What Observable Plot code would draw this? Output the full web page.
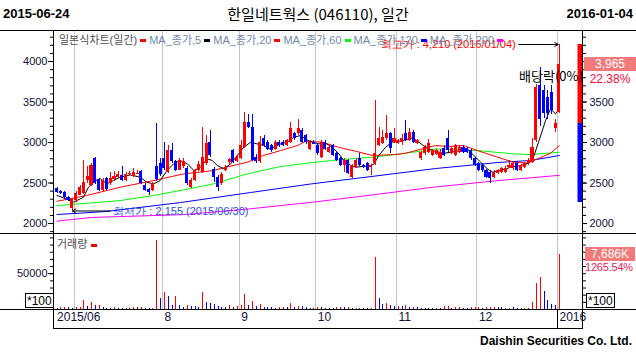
<!DOCTYPE html>
<html><head><meta charset="utf-8">
<script src="https://cdn.jsdelivr.net/npm/d3@7"></script>
<script src="https://cdn.jsdelivr.net/npm/@observablehq/plot@0.6"></script>
<style>
body{margin:0;background:#fff;}
#root{position:relative;width:636px;height:353px;overflow:hidden;background:#fff;font-family:"Liberation Sans",Arial,"Noto Sans CJK KR",sans-serif;}
#root svg{position:absolute;left:0;}
.ab{position:absolute;white-space:nowrap;}
.hl{position:absolute;background:#000;}
.lg i{display:inline-block;width:6px;height:3px;margin:0 3px 0 3px;vertical-align:middle;position:relative;top:-1px;}
</style></head><body><div id="root"></div>
<script>
// ---------------- data (daily candles 2015-06-24 .. 2016-01-04) ----------------
const opens = [2428,2400,2387,2320,2190,2280,2350,2370,2530,2470,2800,2540,2410,2550,2490,2540,2570,2590,2530,2600,2580,2610,2640,2470,2420,2410,2700,2740,2800,2630,2900,2760,2660,2700,2680,2450,2530,2650,2630,2740,3000,2670,2570,2490,2650,2750,2900,2760,2800,2940,3250,3190,2820,2760,3045,3000,2960,2920,3000,3000,2960,3004,3107,3107,3148,3086,2920,3004,2963,2819,3004,2880,2963,2860,2800,2716,2778,2572,2695,2798,2716,2737,2695,2737,2963,2983,3045,3107,3004,2983,3004,3107,3025,3127,2983,2798,2860,2880,2840,2850,2800,2922,3045,2860,2840,2880,2942,2922,2901,2798,2737,2720,2654,2634,2572,2613,2634,2634,2695,2675,2737,2654,2695,2737,2757,3025,3700,3640,3560,3620,3170,3375];
const highs = [2440,2410,2395,2330,2310,2390,2470,2780,2700,2740,2820,2560,2550,2570,2630,2640,2640,2700,2630,2640,2680,2650,2650,2490,2430,2510,3230,2800,3000,2960,2990,2780,2800,2800,2700,2550,2670,2760,3190,3090,3150,2690,2590,2630,2720,2800,2920,2840,3020,3375,3350,3350,2850,3080,3085,3020,2980,3020,3020,3020,3040,3250,3130,3290,3170,3100,3020,3020,2990,3020,3020,2960,2980,2880,2810,2800,2790,2730,2800,2860,2730,2750,2730,3518,3189,3148,3333,3120,3170,3040,3100,3271,3170,3150,3040,2890,2960,3040,2920,2920,2920,2963,3148,2940,2980,2960,2960,2940,2920,2810,2750,2737,2670,2650,2650,2670,2690,2700,2780,2750,2760,2730,2750,2800,3045,3720,3930,3700,3640,3700,3290,4210];
const lows = [2375,2360,2300,2270,2155,2260,2340,2360,2500,2460,2480,2400,2400,2410,2470,2520,2550,2520,2520,2590,2570,2600,2480,2400,2350,2400,2520,2580,2650,2620,2740,2640,2650,2680,2470,2430,2520,2640,2620,2720,2820,2510,2390,2470,2640,2730,2740,2750,2790,2930,3170,2760,2740,2740,2940,2900,2880,2900,2940,2950,2950,2990,3030,3090,2990,2980,2900,2970,2840,2800,2900,2870,2830,2760,2700,2634,2600,2560,2680,2700,2680,2640,2593,2720,2950,2970,3030,2860,2990,2970,2960,3010,3010,2990,2970,2778,2840,2870,2830,2840,2790,2830,2880,2850,2830,2870,2860,2870,2780,2700,2640,2630,2560,2490,2560,2600,2620,2620,2680,2660,2640,2640,2680,2720,2740,3000,3200,3300,3290,3350,3130,3354];
const closes = [2387,2370,2317,2290,2300,2370,2450,2510,2580,2720,2490,2410,2530,2420,2560,2580,2600,2530,2610,2620,2630,2620,2490,2410,2380,2490,2540,2600,2680,2900,2760,2660,2780,2760,2490,2530,2655,2730,2820,2985,2840,2570,2450,2610,2690,2790,2757,2820,2960,3250,3190,2780,2760,3000,2960,2920,2900,3000,2960,2960,3025,3170,3045,3170,3004,3004,3004,2980,2860,3004,2920,2942,2840,2778,2716,2778,2613,2716,2778,2716,2690,2654,2716,2860,3045,3066,3107,2922,3045,3025,3045,3025,3127,3004,3025,2880,2942,2983,2901,2900,2880,2840,2900,2922,2963,2942,2880,2880,2800,2716,2654,2654,2572,2551,2634,2654,2675,2675,2716,2737,2654,2716,2737,2778,2942,3680,3290,3354,3354,3395,3240,3965];
// volume in thousand shares, and its colour (1 = up/red, 0 = down/blue)
const volumes = [93,233,280,233,140,233,280,1256,419,977,558,558,233,140,140,233,140,140,140,140,280,233,233,140,140,140,9626,1535,2372,1814,558,1814,512,280,512,419,419,233,2372,977,837,698,419,280,280,512,280,419,512,2093,558,1116,419,698,280,280,280,140,280,280,326,837,280,419,419,280,140,140,233,233,140,140,140,233,280,233,280,140,140,140,140,140,140,7300,1535,698,837,512,372,419,419,558,280,280,280,140,140,140,140,140,140,372,419,140,233,280,140,140,233,280,280,140,233,233,280,233,233,140,140,280,140,140,140,140,977,3674,4464,2511,1256,698,563,7686];
const volUp = [0,1,1,0,0,1,1,1,0,1,0,1,0,0,0,1,0,0,1,0,1,0,1,0,0,1,1,0,1,0,0,1,0,0,1,0,0,0,1,0,0,0,0,0,0,1,0,1,1,1,0,1,0,1,0,0,0,0,1,1,0,1,0,1,0,0,0,1,1,0,1,0,0,1,1,0,1,0,1,1,0,0,1,1,0,0,1,0,0,1,0,1,0,1,0,0,0,0,0,1,0,1,1,0,1,1,0,0,1,1,1,0,1,1,1,0,0,1,1,0,0,1,1,0,1,1,1,0,0,0,0,1];
// moving averages: [day index, value]
const ma5 = [[0,2346],[1.7,2317],[4.3,2263],[6.9,2325],[8.2,2449],[10,2531],[11.3,2551],[13,2490],[14.7,2531],[16.5,2572],[19.1,2600],[21.7,2572],[23.4,2510],[25.2,2490],[26.9,2531],[28.7,2654],[30.4,2737],[32.1,2778],[34,2737],[35.7,2654],[37.4,2695],[39.2,2798],[40.5,2778],[41.8,2716],[43.5,2675],[45.3,2737],[47,2840],[48.7,2942],[50.5,3004],[52.2,2983],[53.9,2963],[55.3,2922],[56.6,2942],[58.3,2983],[60,3004],[61.8,3066],[63.5,3086],[65.3,3030],[66.6,3004],[68.3,2983],[70,2992],[71.8,2942],[73.5,2860],[74.8,2778],[76.6,2716],[77.9,2695],[79.6,2704],[81.4,2704],[82.7,2737],[83.9,2840],[85.7,2942],[87.4,3004],[89.2,3016],[90.9,3033],[92.7,3058],[94.4,3004],[96.1,2942],[97.9,2901],[100.9,2868],[104.4,2893],[107,2922],[108.7,2839],[110.5,2757],[112.2,2675],[113.5,2634],[115.7,2654],[118.3,2695],[120.9,2716],[123.1,2745],[124.4,2839],[125.7,3025],[127.4,3271],[128.7,3415],[130,3354],[131,3415]];
const ma20 = [[0,2275],[7.7,2346],[16.6,2449],[25.2,2531],[33,2613],[40.8,2654],[43.4,2688],[49.7,2757],[53.8,2840],[58.3,2901],[62.7,2963],[64.8,3015],[69.2,3004],[73.4,2942],[77.8,2893],[82.3,2840],[88.3,2852],[90.9,2868],[95.3,2922],[98.7,2963],[101.8,2951],[106,2963],[109.6,2901],[114.9,2819],[119,2757],[122.7,2745],[125.3,2799],[128.7,2868],[131,2963]];
const ma60 = [[0,2222],[7.7,2250],[16.6,2284],[25.2,2346],[33,2416],[40.8,2490],[49.7,2614],[58.3,2704],[66.1,2750],[73.4,2787],[82.3,2819],[90.9,2868],[98.7,2920],[109.6,2901],[119,2860],[123.5,2852],[131,2880]];
const ma120 = [[0,2111],[12.7,2148],[32.2,2259],[50.5,2383],[66.1,2488],[81.9,2580],[98.7,2679],[114.9,2753],[123.5,2778],[131,2840]];
const ma200 = [[0,2030],[9,2075],[33,2110],[50,2180],[66,2260],[80,2340],[98,2448],[115,2530],[131,2595]];
// first trading day of each month (day index) and date-axis labels
const monthStarts = [5,28,48,68,89,110,131];
const dateLabels = [{i:0,t:"2015/06"},{i:28,t:"8"},{i:48,t:"9"},{i:68,t:"10"},{i:89,t:"11"},{i:110,t:"12"},{i:131,t:"2016"}];
const priceTicks = [2000,2500,3000,3500,4000];
const volTicks = [5000];
const lowMark = {i:4, p:2155, label:"최저가 : 2,155 (2015/06/30)"};
const highMark = {i:131, p:4210, label:"최고가 : 4,210 (2016/01/04)"};
const exDiv = {i:129, label:"배당락(0%)"};
const rangeBar = [{lo:3235,hi:4210,c:"#ff0000"},{lo:2260,hi:3235,c:"#0000ff"}];
const legendItems = [["일본식차트(일간)","#ff0000"],["MA_종가,5","#000000"],["MA_종가,20","#ff0000"],["MA_종가,60","#00ff00"],["MA_종가,120","#0000ff"],["MA_종가,200","#ff00ff"]];
const lastVolLabel = "7,686K", lastVolPct = "1265.54%";

// ---------------- drawing ----------------
const RED="#ff0000", BLUE="#0000ff", GRID="#c4c4c4", TXT="#101038";
const N = closes.length, ids = d3.range(N);
const X_DOMAIN = [-0.913, 137.03];
const col = i => closes[i] >= opens[i] ? RED : BLUE;
const root = document.getElementById("root");
const common = {width:636, marginLeft:53, marginRight:54, x:{domain:X_DOMAIN, axis:null}, color:{type:"identity"},
  style:{background:"transparent", overflow:"visible", fontFamily:"Liberation Sans, Arial, sans-serif", fontSize:"11px"}};
const minorP = d3.range(1900, 4400, 100);
const lineMA = (data, c) => Plot.line(data, {x:d=>d[0], y:d=>d[1], stroke:c, strokeWidth:1});
const plain = d => String(d);

const main = Plot.plot({...common, height:203, marginTop:0, marginBottom:0,
  y:{domain:[1877,4383], axis:null},
  marks:[
    Plot.ruleX(monthStarts, {x:d=>d-0.5, stroke:GRID, shapeRendering:"crispEdges"}),
    lineMA(ma200,"#ff00ff"), lineMA(ma120,"#0000ff"), lineMA(ma60,"#00ff00"), lineMA(ma20,"#ff0000"), lineMA(ma5,"#000000"),
    Plot.ruleX(ids, {x:i=>i, y1:i=>lows[i], y2:i=>highs[i], stroke:col, shapeRendering:"crispEdges"}),
    Plot.rect(ids, {x1:i=>i-0.4, x2:i=>i+0.4, y1:i=>opens[i], y2:i=>closes[i], fill:col, shapeRendering:"crispEdges"}),
    Plot.ruleX(rangeBar, {x:X_DOMAIN[1], dx:-2.5, y1:"lo", y2:"hi", stroke:"c", strokeWidth:5}),
    Plot.arrow([lowMark], {x1:d=>d.i+9.9, x2:d=>d.i, y1:"p", y2:"p", stroke:"#000", headLength:6, strokeWidth:1}),
    Plot.text([lowMark], {x:d=>d.i+9.9, y:"p", text:"label", textAnchor:"start", dx:3, fill:"#3050e8", fontSize:11}),
    Plot.arrow([highMark], {x1:d=>d.i-10.6, x2:d=>d.i-0.3, y1:"p", y2:"p", stroke:"#000", headLength:6, strokeWidth:1}),
    Plot.text([highMark], {x:d=>d.i-10.6, y:"p", text:"label", textAnchor:"end", dx:-3, fill:"#ff0000", fontSize:11}),
    Plot.axisY(priceTicks, {anchor:"left", tickSize:5, tickPadding:1, tickFormat:plain, fill:TXT, fontSize:11}),
    Plot.axisY(minorP, {anchor:"left", tickSize:3, tickFormat:()=>""}),
    Plot.axisY(priceTicks, {anchor:"right", tickSize:4, tickPadding:3, tickFormat:d=>d<4000?String(d):"", fill:TXT, fontSize:11}),
    Plot.axisY(minorP, {anchor:"right", tickSize:3, tickFormat:()=>""}),
    Plot.frame({anchor:"left"}), Plot.frame({anchor:"right"})
  ]});
main.style.top = "30px";
root.appendChild(main);

const vol = Plot.plot({...common, height:95, marginTop:0, marginBottom:19,
  y:{domain:[0,10614], axis:null},
  marks:[
    Plot.ruleX(monthStarts, {x:d=>d-0.5, stroke:GRID, shapeRendering:"crispEdges"}),
    Plot.ruleX(ids, {x:i=>i, y1:0, y2:i=>volumes[i], stroke:i=>volUp[i]?RED:BLUE, shapeRendering:"crispEdges"}),
    Plot.axisY(volTicks, {anchor:"left", tickSize:5, tickPadding:1, tickFormat:d=>String(d*10), fill:TXT, fontSize:11}),
    Plot.axisY(d3.range(1000,10600,1000), {anchor:"left", tickSize:3, tickFormat:()=>""}),
    Plot.axisY(d3.range(1000,10600,1000), {anchor:"right", tickSize:3, tickFormat:()=>""}),
    Plot.frame({anchor:"left"}), Plot.frame({anchor:"right"}),
    Plot.text(dateLabels, {x:d=>d.i-0.5, frameAnchor:"bottom", dy:11, dx:2, textAnchor:"start", text:"t", fill:TXT, fontSize:12})
  ]});
vol.style.top = "233px";
root.appendChild(vol);

const xs = vol.scale("x"), ysM = main.scale("y"), ysV = vol.scale("y");
function add(html, css){const d=document.createElement("div"); d.className="ab"; d.innerHTML=html; d.style.cssText+=css; root.appendChild(d); return d;}
function hline(l,t,w,h){const d=document.createElement("div"); d.className="hl"; d.style.cssText=`left:${l}px;top:${t}px;width:${w}px;height:${h}px`; root.appendChild(d);}

// title row
add("2015-06-24","left:3px;top:6px;font:bold 13px 'Liberation Sans',Arial;color:#000;");
add("한일네트웍스 (046110), 일간","left:0;width:636px;text-align:center;top:3px;font:15px 'Noto Sans CJK KR';color:#000;");
add("2016-01-04","right:3px;top:6px;font:bold 13px 'Liberation Sans',Arial;color:#000;");
// frame lines
hline(0,30,636,1); hline(0,233,636,1); hline(0,309,636,1);
hline(53,309,1,20); hline(582,309,1,20); hline(53,328,530,1);
hline(Math.round(xs.apply(monthStarts[6]-0.5)),309,1,19);

// legend
const lg = add(legendItems.map(([t,c],k)=>`<span style="color:${k?'#7088a8':'#505050'}">${t}</span><i style="background:${c}"></i>`).join(""),
  "left:59px;top:31px;font:11px 'Liberation Sans','Noto Sans CJK KR';");
lg.classList.add("lg");
add(`거래량<span style="display:inline-block;width:6px;height:3px;background:${RED};margin-left:4px;vertical-align:middle"></span>`,
  "left:57px;top:235px;font:11px 'Noto Sans CJK KR';color:#505050;");

// ex-dividend label
add(exDiv.label, `left:${Math.round(xs.apply(exDiv.i))-32}px;top:${30+Math.round(ysM.apply(3810))-9}px;font:13px 'Noto Sans CJK KR';color:#000;line-height:18px;`);

// last price / change
const lastC = closes[N-1], prevC = closes[N-2];
const yC = 30 + ysM.apply(lastC);
add(d3.format(",")(lastC), `left:584px;width:52px;top:${yC-7}px;height:14px;line-height:14px;background:#f47a7a;color:#fff;text-align:center;font:12px 'Liberation Sans';`);
add(((lastC/prevC-1)*100).toFixed(2)+"%", `left:584px;width:52px;top:${yC+8}px;line-height:14px;color:#ff0a3a;text-align:center;font:12px 'Liberation Sans';`);
// last volume
const yV = 233 + ysV.apply(volumes[N-1]);
add(lastVolLabel, `left:585px;width:50px;top:${yV-7}px;height:14px;line-height:14px;background:#f47a7a;color:#fff;text-align:center;font:12px 'Liberation Sans';`);
add(lastVolPct, `left:585px;top:${yV+7}px;line-height:14px;color:#e8205a;font:11px 'Liberation Sans';letter-spacing:-0.2px;`);
// *100 boxes
const box = "border:1px solid #000;height:13px;line-height:13px;padding:0 1px;font:12px 'Liberation Sans';color:#000;background:#fff;";
add("*100","left:25px;top:293px;"+box);
add("*100","left:586px;top:293px;"+box);
// footer
add("Daishin Securities Co. Ltd.","right:4px;top:334px;font:bold 12px 'Liberation Sans',Arial;color:#000;");
</script></body></html>
